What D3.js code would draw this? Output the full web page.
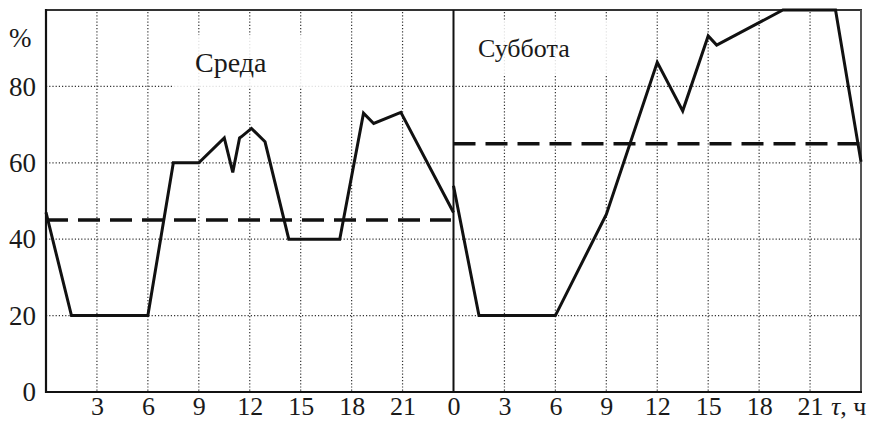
<!DOCTYPE html>
<html><head><meta charset="utf-8">
<script src="https://cdn.jsdelivr.net/npm/d3@7/dist/d3.min.js"></script>
<style>
html,body{margin:0;padding:0;background:#fff;}
svg{display:block;}
text{font-family:"Liberation Serif","Times New Roman",serif;fill:#1a1a1a;}
</style></head>
<body>
<svg id="chart" width="873" height="422"></svg>
<script>
// ---- data ----
const dayNames = ["Среда", "Суббота"];
const wedHours  = [0, 1.5, 6, 7.5, 9, 10.5, 11, 11.4, 11.5, 12.1, 12.9, 14.3, 17.3, 18.7, 19.3, 20.9, 24];
const wedValues = [47, 20, 20, 60, 60, 66.5, 57.5, 66.5, 66.8, 69, 65.5, 40, 40, 73, 70.3, 73.2, 47];
const satHours  = [0, 1.5, 6, 9, 12, 13.5, 15, 15.5, 19.4, 22.5, 24];
const satValues = [54, 20, 20, 46.5, 86.3, 73.6, 93.2, 90.8, 100, 100, 60.3];
const wedMean = 45;
const satMean = 65;
const yTicks = [0, 20, 40, 60, 80];
const gridY = [20, 40, 60, 80];
const hourTicks = [3, 6, 9, 12, 15, 18, 21];
const yUnit = "%";

// ---- layout ----
const svg = d3.select("#chart");
const L = 46, R = 861, T = 10, B = 392;
const x = d3.scaleLinear().domain([0, 48]).range([L, R]);
const y = d3.scaleLinear().domain([0, 100]).range([B, T]);

// grid
const gridXs = hourTicks.concat(hourTicks.map(h => h + 24));
const grid = svg.append("g").attr("stroke", "#333").attr("stroke-width", 1.2)
  .attr("stroke-dasharray", "1.2,2");
grid.selectAll("line.gx").data(gridXs).join("line").attr("class","gx")
  .attr("x1", d => x(d)).attr("x2", d => x(d)).attr("y1", T + 2).attr("y2", B);
grid.selectAll("line.gy").data(gridY).join("line").attr("class","gy")
  .attr("x1", L).attr("x2", R).attr("y1", d => y(d)).attr("y2", d => y(d));

// label background boxes
svg.append("rect").attr("x", 172).attr("y", 35).attr("width", 177).attr("height", 53)
  .attr("fill", "#fff").attr("fill-opacity", 0.85);
svg.append("rect").attr("x", 460).attr("y", 20).attr("width", 172).attr("height", 54)
  .attr("fill", "#fff").attr("fill-opacity", 0.85);

// frame
svg.append("line").attr("x1", L).attr("x2", R + 1).attr("y1", T).attr("y2", T)
  .attr("stroke", "#333").attr("stroke-width", 2.2);
svg.append("line").attr("x1", R).attr("x2", R).attr("y1", T).attr("y2", B)
  .attr("stroke", "#555").attr("stroke-width", 2);
svg.append("line").attr("x1", L).attr("x2", L).attr("y1", T - 1).attr("y2", B + 1)
  .attr("stroke", "#111").attr("stroke-width", 2.2);
svg.append("line").attr("x1", L).attr("x2", R + 1).attr("y1", B).attr("y2", B)
  .attr("stroke", "#111").attr("stroke-width", 2.2);
svg.append("line").attr("x1", x(24)).attr("x2", x(24)).attr("y1", T).attr("y2", B)
  .attr("stroke", "#111").attr("stroke-width", 2);

// data lines
const line = d3.line().x(d => x(d[0])).y(d => y(d[1]));
const wedPts = wedHours.map((h, i) => [h, wedValues[i]]);
const satPts = satHours.map((h, i) => [h + 24, satValues[i]]);
[wedPts, satPts].forEach(pts => {
  svg.append("path").datum(pts).attr("d", line).attr("fill", "none")
    .attr("stroke", "#111").attr("stroke-width", 3).attr("stroke-linejoin", "miter");
});

// mean dashed lines
[[0, 23.85, wedMean], [24, 48, satMean]].forEach(([a, b, m]) => {
  svg.append("line").attr("x1", x(a)).attr("x2", x(b)).attr("y1", y(m)).attr("y2", y(m))
    .attr("stroke", "#111").attr("stroke-width", 3.5).attr("stroke-dasharray", "22,10");
});

// axes labels
const yAxis = d3.axisLeft(y).tickValues(yTicks).tickSize(0).tickPadding(10);
const gy = svg.append("g").attr("transform", `translate(${L},0)`).call(yAxis);
gy.select(".domain").remove();
gy.selectAll("text").style("font-size", "27px").style("font-family", "Liberation Serif").attr("fill", "#1a1a1a");

const xTickVals = hourTicks.concat([24], hourTicks.map(h => h + 24));
const xAxis = d3.axisBottom(x).tickValues(xTickVals).tickSize(0).tickPadding(5)
  .tickFormat(d => String(d >= 24 ? d - 24 : d));
const gx = svg.append("g").attr("transform", `translate(0,${B})`).call(xAxis);
gx.select(".domain").remove();
gx.selectAll("text").style("font-size", "26px").style("font-family", "Liberation Serif").attr("fill", "#1a1a1a");

svg.append("text").attr("x", 9).attr("y", 47).style("font-size", "27px").text(yUnit);
const unit = svg.append("text").attr("x", 831).attr("y", 415).style("font-size", "26px");
unit.append("tspan").style("font-style", "italic").text("τ");
unit.append("tspan").text(", ч");

// day labels
svg.append("text").attr("x", 195).attr("y", 72).style("font-size", "28px").text(dayNames[0]);
svg.append("text").attr("x", 478).attr("y", 57).style("font-size", "26px").text(dayNames[1]);
</script>
</body></html>
